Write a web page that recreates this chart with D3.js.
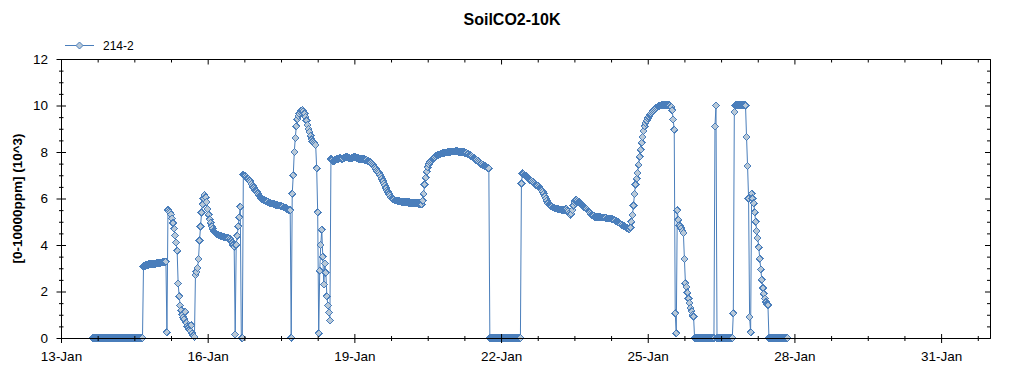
<!DOCTYPE html>
<html>
<head>
<meta charset="utf-8">
<script src="https://cdn.jsdelivr.net/npm/d3@7"></script>
<style>
  body { margin: 0; background: #fff; }
  svg { display: block; font-family: "Liberation Sans", Arial, sans-serif; }
  .tick text { font-size: 13.5px; fill: #000; }
  .tick line, .domain { stroke: #000; }
</style>
</head>
<body>
<div id="wrapper"></div>
<script>
// half-hourly readings (10^3 ppm), one array per day starting 00:00, null = no reading
const jan13 = [null, null, null, null, null, null, null, null, null, null, null, null, null, null, null, null,
    null, null, null, null, null, null, null, null, null, null, null, null, null, null, null,
    0, 0, 0, 0, 0, 0, 0, 0, 0, 0, 0, 0, 0, 0, 0, 0, 0]
const jan14 = [0, 0, 0, 0, 0, 0, 0, 0, 0, 0, 0, 0, 0, 0, 0, 0, 0, 0, 0, 0, 0, 0, 0, 0, 0, 0, 0, 0, 0, 0, 0, 0, 0,
    3.08, 3.1, 3.12, 3.13, 3.15, 3.16, 3.17, 3.18, 3.18, 3.19, 3.2, 3.2, 3.2, 3.21, 3.21]
const jan15 = [3.22, 3.23, 3.24, 3.25, 3.26, 3.27, 3.28, 3.28, 0.25, 5.5, 5.45, 5.4, 5.3, 5.15, 4.95, 4.7,
    4.4, 4.1, 3.75, 2.35, 1.8, 1.4, 1.2, 1.0, 0.9, 0.8, 1.13, 0.65, 0.5, 0.45, 0.35, 0.3,
    0.55, 0.2, 0.1, 0.05, 2.7, 2.85, 3.0, 3.4, 4.2, 4.8, 5.4, 5.75, 6.0, 6.15, 6.05, 5.85]
const jan16 = [5.55, 5.3, 5.1, 4.95, 4.8, 4.7, 4.6, 4.55, 4.5, 4.47, 4.45, 4.42, 4.4, 4.39, 4.38, 4.37,
    4.35, 4.33, 4.32, 4.31, 4.3, 4.28, 4.25, 4.18, 4.1, 4.0, 3.92, 0.15, 4.0, 4.4, 4.8, 5.2,
    5.65, 0, 0, 7.02, 6.98, 6.95, 6.92, 6.88, 6.85, 6.78, 6.7, 6.62, 6.55, 6.48, 6.4, 6.35]
const jan17 = [6.3, 6.22, 6.15, 6.1, 6.05, 6.0, 5.97, 5.95, 5.92, 5.9, 5.88, 5.85, 5.83, 5.82, 5.8, 5.79,
    5.78, 5.76, 5.75, 5.73, 5.72, 5.71, 5.7, 5.69, 5.68, 5.66, 5.65, 5.62, 5.6, 5.58, 5.55, 5.52,
    5.5, 5.5, 0, 6.2, 7.0, 8.0, 8.6, 9.1, 9.4, 9.55, 9.65, 9.72, 9.78, 9.8, 9.75, 9.65]
const jan18 = [9.5, 9.35, 9.17, 9.0, 8.85, 8.7, 8.55, 8.45, 8.4, 8.35, 8.3, 7.3, 5.4, 0.2, 2.9, 4.0,
    4.65, 3.5, 2.3, 3.2, 2.8, 1.8, 1.4, 1.1, 0.75, 7.7, 7.65, 7.6, 7.62, 7.65, 7.68, 7.7,
    7.7, 7.72, 7.74, 7.72, 7.7, 7.72, 7.75, 7.77, 7.78, 7.78, 7.76, 7.74, 7.72, 7.73, 7.75, 7.77]
const jan19 = [7.78, 7.77, 7.75, 7.74, 7.72, 7.71, 7.7, 7.7, 7.7, 7.69, 7.68, 7.66, 7.65, 7.62, 7.6, 7.58,
    7.55, 7.5, 7.45, 7.4, 7.35, 7.28, 7.2, 7.15, 7.1, 7.02, 6.95, 6.85, 6.75, 6.65, 6.55, 6.45,
    6.35, 6.28, 6.2, 6.12, 6.05, 6.01, 5.98, 5.95, 5.92, 5.91, 5.9, 5.89, 5.88, 5.87, 5.86, 5.86]
const jan20 = [5.85, 5.85, 5.85, 5.84, 5.84, 5.83, 5.83, 5.82, 5.82, 5.82, 5.82, 5.81, 5.8, 5.8, 5.8, 5.79,
    5.78, 5.76, 5.75, 5.9, 6.2, 6.6, 6.9, 7.15, 7.35, 7.48, 7.55, 7.6, 7.65, 7.7, 7.75, 7.78,
    7.82, 7.85, 7.87, 7.89, 7.9, 7.92, 7.93, 7.95, 7.96, 7.97, 7.98, 7.99, 8.0, 8.0, 8.01, 8.02]
const jan21 = [8.02, 8.02, 8.02, 8.03, 8.03, 8.03, 8.02, 8.02, 8.01, 8.0, 8.0, 7.99, 7.98, 7.96, 7.95, 7.92,
    7.9, 7.88, 7.85, 7.82, 7.78, 7.75, 7.72, 7.68, 7.65, 7.62, 7.58, 7.54, 7.5, 7.48, 7.45, 7.42,
    7.4, 7.38, 7.35, 7.32, 7.3, 0, 0, 0, 0, 0, 0, 0, 0, 0, 0, 0]
const jan22 = [0, 0, 0, 0, 0, 0, 0, 0, 0, 0, 0, 0, 0, 0, 0, 0, 0, 0, 0, 0,
    6.65, 7.08, 7.05, 7.0, 6.98, 6.94, 6.9, 6.86, 6.82, 6.78, 6.75, 6.72, 6.68, 6.64, 6.6, 6.57,
    6.55, 6.5, 6.45, 6.4, 6.35, 6.28, 6.2, 6.1, 6.0, 5.9, 5.8, 5.75]
const jan23 = [5.72, 5.68, 5.65, 5.62, 5.6, 5.58, 5.57, 5.56, 5.55, 5.53, 5.52, 5.51, 5.5, 5.5, 5.5, 5.52,
    5.55, 5.5, 5.45, 5.38, 5.3, 5.35, 5.5, 5.7, 5.85, 5.92, 5.95, 5.9, 5.85, 5.82, 5.78, 5.74,
    5.7, 5.66, 5.62, 5.58, 5.55, 5.5, 5.45, 5.4, 5.35, 5.3, 5.28, 5.25, 5.22, 5.21, 5.2, 5.2]
const jan24 = [5.2, 5.2, 5.2, 5.19, 5.18, 5.18, 5.18, 5.17, 5.15, 5.15, 5.15, 5.14, 5.13, 5.12, 5.1, 5.08,
    5.05, 5.02, 5.0, 4.98, 4.95, 4.92, 4.88, 4.85, 4.82, 4.8, 4.78, 4.75, 4.72, 4.7, 4.68, 4.75,
    5.0, 5.3, 5.7, 6.2, 6.6, 6.85, 7.1, 7.45, 7.8, 8.1, 8.4, 8.65, 8.9, 9.1, 9.25, 9.35]
const jan25 = [9.45, 9.52, 9.6, 9.65, 9.7, 9.75, 9.8, 9.84, 9.88, 9.92, 9.95, 9.98, 10.0, 10.01, 10.02, 10.02,
    10.02, 10.03, 10.03, 10.02, 10.02, 10.01, 10.0, 9.95, 9.8, 9.4, 8.95, 1.06, 0.2, 5.5, 5.08, 4.85,
    4.8, 4.72, 4.6, 4.52, 3.4, 2.35, 2.2, 1.95, 1.7, 1.5, 1.3, 1.15, 1.0, 0.92, 0, 0]
const jan26 = [0, 0, 0, 0, 0, 0, 0, 0, 0, 0, 0, 0, 0, 0, 0, 0, 0, 0, 9.1, 10.0,
    0, 0, 0, 0, 0, 0, 0, 0, 0, 0, 0, 0, 0, 0, 0, 0,
    1.06, 9.72, 10.0, 10.02, 10.02, 10.02, 10.03, 10.02, 10.02, 10.02, 10.02, 10.02]
const jan27 = [10.0, 8.65, 7.4, 6.0, 0.9, 0.25, 6.2, 6.0, 5.8, 5.4, 5.0, 4.6, 4.3, 3.9, 3.4, 2.95,
    2.5, 2.15, 1.9, 1.7, 1.55, 1.45, 1.42, 0, 0, 0, 0, 0, 0, 0, 0, 0,
    0, 0, 0, 0, 0, 0, 0, 0, 0, 0, null, null, null, null, null, null]

const dayArrays = [jan13, jan14, jan15, jan16, jan17, jan18, jan19, jan20, jan21, jan22, jan23, jan24, jan25, jan26, jan27]
const firstDay = new Date(2014, 0, 13)
const lastDay = new Date(2014, 1, 1)
const yMax = 12
const chartTitle = "SoilCO2-10K"
const yLabel = "[0-10000ppm] (10^3)"
const seriesName = "214-2"

function drawChart() {

    // 1. Access data
    const dataset = dayArrays
        .flatMap((day, i) => day.map((v, k) => ({ date: d3.timeMinute.offset(firstDay, (i * 48 + k) * 30), value: v })))
        .filter(d => d.value !== null)

    // 2. Create chart dimensions
    let dimensions = {
        width: 1024,
        height: 375,
        margin: { top: 59, right: 34, bottom: 37, left: 61 },
    }
    dimensions.boundedWidth = dimensions.width - dimensions.margin.left - dimensions.margin.right
    dimensions.boundedHeight = dimensions.height - dimensions.margin.top - dimensions.margin.bottom

    // 3. Draw canvas
    const wrapper = d3.select("#wrapper")
        .append("svg")
        .attr("width", dimensions.width)
        .attr("height", dimensions.height)

    const bounds = wrapper.append("g")
        .attr("transform", `translate(${dimensions.margin.left}, ${dimensions.margin.top})`)

    // 4. Create scales
    const xScale = d3.scaleTime()
        .domain([firstDay, lastDay])
        .range([0, dimensions.boundedWidth])

    const yScale = d3.scaleLinear()
        .domain([0, yMax])
        .range([dimensions.boundedHeight, 0])

    const majorDays = d3.timeDay.range(firstDay, lastDay, 3)
    const minorHours = d3.timeHour.range(firstDay, lastDay, 18).filter((d, i) => i % 4 != 0)
    const majorY = d3.range(0, yMax + 1, 2)
    const minorY = yScale.ticks(24).filter(d => d % 2 != 0)

    // 5. Draw data
    const lineGenerator = d3.line()
        .x(d => xScale(d.date))
        .y(d => yScale(d.value))

    bounds.append("path")
        .attr("d", lineGenerator(dataset))
        .attr("fill", "none")
        .attr("stroke", "#4a7ebb")
        .attr("stroke-width", 1)

    const diamond = "M0,-3.5L3.5,0L0,3.5L-3.5,0Z"

    bounds.append("g").selectAll("path")
        .data(dataset)
        .join("path")
        .attr("d", diamond)
        .attr("transform", d => `translate(${xScale(d.date)}, ${yScale(d.value)})`)
        .attr("fill", "#b9c9d8")
        .attr("stroke", "#4a7ebb")
        .attr("stroke-width", 1)
        .attr("shape-rendering", "crispEdges")

    // 6. Draw peripherals
    const xAxis = bounds.append("g")
        .attr("transform", `translate(0, ${dimensions.boundedHeight})`)
        .call(d3.axisBottom(xScale).tickValues(majorDays).tickSize(5).tickSizeOuter(0)
            .tickPadding(8).tickFormat(d3.timeFormat("%-d-%b")))
    xAxis.selectAll(".tick line").attr("y1", -4)

    const xMinor = bounds.append("g")
        .attr("transform", `translate(0, ${dimensions.boundedHeight})`)
        .call(d3.axisBottom(xScale).tickValues(minorHours).tickSize(3).tickSizeOuter(0).tickFormat(""))
    xMinor.selectAll(".tick line").attr("y1", -2)

    const yAxis = bounds.append("g")
        .call(d3.axisLeft(yScale).tickValues(majorY).tickSize(4.5).tickSizeOuter(0).tickPadding(8.5))
    yAxis.selectAll(".tick line").attr("x1", 5)

    const yMinor = bounds.append("g")
        .call(d3.axisLeft(yScale).tickValues(minorY).tickSize(2).tickSizeOuter(0).tickFormat(""))
    yMinor.selectAll(".tick line").attr("x1", 2.5)

    bounds.append("g")
        .call(d3.axisTop(xScale).tickValues(majorDays).tickSize(-5.5).tickSizeOuter(0).tickFormat(""))
    bounds.append("g")
        .call(d3.axisTop(xScale).tickValues(minorHours).tickSize(-3.5).tickSizeOuter(0).tickFormat(""))

    bounds.append("g")
        .attr("transform", `translate(${dimensions.boundedWidth}, 0)`)
        .call(d3.axisRight(yScale).tickValues(majorY).tickSize(-5).tickSizeOuter(0).tickFormat(""))
    bounds.append("g")
        .attr("transform", `translate(${dimensions.boundedWidth}, 0)`)
        .call(d3.axisRight(yScale).tickValues(minorY).tickSize(-3).tickSizeOuter(0).tickFormat(""))

    wrapper.append("text")
        .attr("x", 512)
        .attr("y", 25)
        .attr("text-anchor", "middle")
        .style("font-size", "16px")
        .style("font-weight", "bold")
        .text(chartTitle)

    wrapper.append("text")
        .attr("transform", `translate(22, ${dimensions.margin.top + dimensions.boundedHeight / 2}) rotate(-90)`)
        .attr("text-anchor", "middle")
        .style("font-size", "13.5px")
        .style("font-weight", "bold")
        .text(yLabel)

    // legend
    const legend = wrapper.append("g")
        .attr("transform", "translate(65, 45.5)")
    legend.append("line")
        .attr("x1", 0).attr("x2", 29)
        .attr("stroke", "#4a7ebb")
    legend.append("path")
        .attr("d", diamond)
        .attr("transform", "translate(14.5, 0)")
        .attr("fill", "#b9c9d8")
        .attr("stroke", "#4a7ebb")
    legend.append("text")
        .attr("x", 38)
        .attr("y", 4.5)
        .style("font-size", "12px")
        .text(seriesName)
}

drawChart()
</script>
</body>
</html>
